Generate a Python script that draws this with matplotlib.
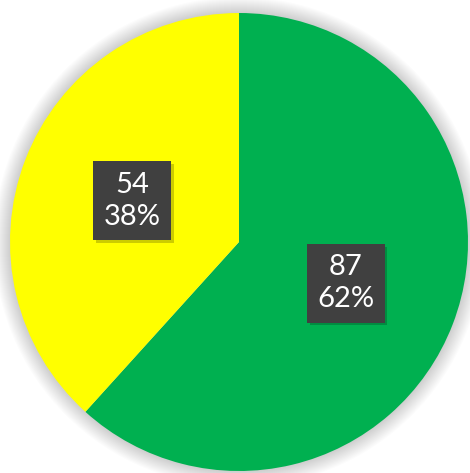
import matplotlib.pyplot as plt
import matplotlib.patheffects as pe
from matplotlib.patches import Circle

# data
labels = ["Green", "Yellow"]
values = [87, 54]
colors = ["#00B050", "#FFFF00"]

fig = plt.figure(figsize=(4.70, 4.73), dpi=100)
ax = fig.add_axes([0, 0, 1, 1])

cx, cy, r = 239, 231, 229

# soft shadow around the pie
for i in range(16):
    ax.add_patch(Circle((cx, cy), r + 1 + i, color="black", alpha=0.012, lw=0, zorder=0))

total = sum(values)


def fmt(pct):
    n = int(round(pct * total / 100.0))
    return "{}\n{:.0f}%".format(n, pct)


wedges, texts, autotexts = ax.pie(values, colors=colors, startangle=90, counterclock=False,
                                  radius=r, center=(cx, cy), autopct=fmt, pctdistance=0.5,
                                  wedgeprops={"linewidth": 0}, frame=True)
ax.set_xlim(0, 470)
ax.set_ylim(0, 473)
ax.set_aspect("equal")
ax.axis("off")

for t in autotexts:
    t.set_color("white")
    t.set_fontsize(21)
    t.set_family("Lato")
    t.set_linespacing(1.3)
    t.set_bbox(dict(boxstyle="square,pad=0.35", facecolor="#404040", edgecolor="none"))
    t.get_bbox_patch().set_path_effects([pe.SimplePatchShadow(offset=(2, -2), shadow_rgbFace="black", alpha=0.2),
                                         pe.Normal()])

plt.savefig("out.png", dpi=100)
